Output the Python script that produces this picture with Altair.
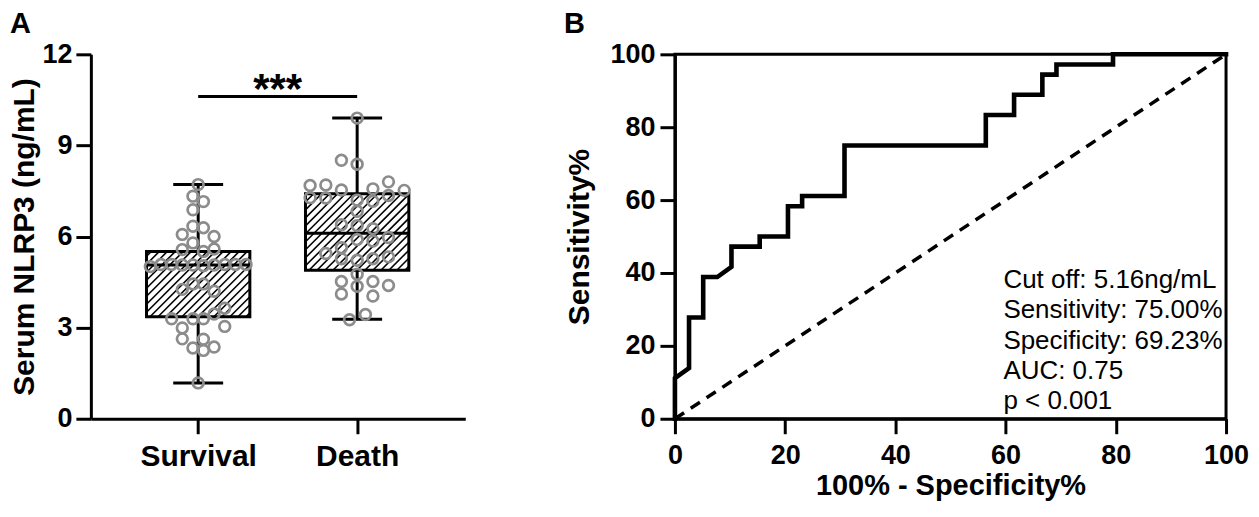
import json
import altair as alt
import pandas as pd

FONT = "Liberation Sans"

# ---------------- Panel A data ----------------
categories = ["Survival", "Death"]

survival_vals = [7.71, 7.33, 7.15, 6.88, 6.34, 6.29, 6.07, 6.00, 5.79, 5.57, 5.51, 5.59,
                 5.01, 5.08, 5.08, 5.06, 5.06, 5.04, 5.06, 5.08, 5.08, 5.08,
                 4.44, 4.44, 4.26, 4.20, 3.64, 3.45, 3.29, 3.29, 3.29, 2.99, 3.04,
                 2.63, 2.62, 2.33, 2.25, 2.36, 1.18]
survival_dx = [0, -0.033, 0.033, -0.033, -0.033, 0.033, -0.10, 0.10, -0.033, -0.10, 0.033, 0.10,
               -0.301, -0.234, -0.167, -0.10, -0.033, 0.033, 0.10, 0.167, 0.234, 0.301,
               -0.033, 0.033, -0.10, 0.10, 0.167, 0.10, -0.167, -0.033, 0.033, -0.10, 0.167,
               -0.10, 0.033, -0.033, 0.033, 0.10, 0]

death_vals = [9.90, 8.51, 8.38, 7.68, 7.70, 7.53, 7.57, 7.80, 7.52, 7.28, 7.27, 7.20, 7.16, 7.35,
              6.83, 6.39, 6.36, 6.26, 5.90, 5.85, 5.97, 5.63, 5.44, 5.27, 5.22, 5.27, 5.33,
              4.76, 4.52, 4.36, 4.52, 4.39, 4.11, 4.04, 3.26, 3.43]
death_dx = [0, -0.099, 0, -0.296, -0.197, -0.099, 0.099, 0.197, 0.296, -0.296, -0.197, 0, 0.099, 0.197,
            0, -0.099, 0, 0.099, 0, 0.099, 0.197, -0.099, -0.197, -0.099, 0, 0.099, 0.197,
            0, -0.099, 0, 0.099, 0.197, -0.099, 0.099, -0.048, 0.052]

box_min = [1.18, 3.28]
box_q1 = [3.36, 4.89]
box_med = [5.06, 6.11]
box_q3 = [5.51, 7.41]
box_max = [7.71, 9.90]

sig_y = 10.61
sig_text = "***"
y_ticks_a = [0, 3, 6, 9, 12]

# ---------------- Panel B data ----------------
fpr = [0, 0, 2.56, 2.56, 5.13, 5.13, 7.69, 10.26, 10.26, 15.38, 15.38, 20.51, 20.51, 23.08,
       23.08, 30.77, 30.77, 56.41, 56.41, 61.54, 61.54, 66.67, 66.67, 69.23, 69.23, 79.49, 79.49, 100]
tpr = [0, 11.11, 13.89, 27.78, 27.78, 38.89, 38.89, 41.67, 47.22, 47.22, 50.00, 50.00, 58.33, 58.33,
       61.11, 61.11, 75.00, 75.00, 83.33, 83.33, 88.89, 88.89, 94.44, 94.44, 97.22, 97.22, 100, 100]
chance_x = [0, 100]
chance_y = [0, 100]
ticks_b = [0, 20, 40, 60, 80, 100]
ann_lines = ["Cut off: 5.16ng/mL", "Sensitivity: 75.00%", "Specificity: 69.23%",
             "AUC: 0.75", "p < 0.001"]

# ---------------- layout / style ----------------
W_A, W_B, H = 375, 552, 365
x_dom_a = [-0.675, 1.68]
box_half = 0.325
cap_half = 0.157
hatch_step = 8.0
dot_gray = "#8c8c8c"

px_x = W_A / (x_dom_a[1] - x_dom_a[0])
px_y = H / (y_ticks_a[-1] - y_ticks_a[0])

pts = pd.DataFrame(
    [{"x": 0 + d, "v": v} for v, d in zip(survival_vals, survival_dx)]
    + [{"x": 1 + d, "v": v} for v, d in zip(death_vals, death_dx)]
)
stats = pd.DataFrame({
    "pos": [0, 1],
    "left": [i - box_half for i in range(2)],
    "right": [i + box_half for i in range(2)],
    "capl": [i - cap_half for i in range(2)],
    "capr": [i + cap_half for i in range(2)],
    "mn": box_min, "q1": box_q1, "med": box_med, "q3": box_q3, "mx": box_max,
})

# diagonal hatch segments clipped to each box (decorative fill pattern)
hatch = []
for i in range(2):
    left = i - box_half
    wp = 2 * box_half * px_x
    hp = (box_q3[i] - box_q1[i]) * px_y
    c = -wp + hatch_step / 2
    while c < hp:
        x0 = max(0.0, -c)
        x1 = min(wp, hp - c)
        if x1 > x0:
            hatch.append({"x": left + x0 / px_x, "y": box_q1[i] + (x0 + c) / px_y,
                          "x2": left + x1 / px_x, "y2": box_q1[i] + (x1 + c) / px_y})
        c += hatch_step
hatch = pd.DataFrame(hatch)

axis_common = dict(domainColor="black", domainWidth=3, tickColor="black", tickWidth=3,
                   tickSize=15, labelColor="black", titleColor="black", grid=False,
                   labelFont=FONT, titleFont=FONT, labelFontWeight="bold",
                   titleFontWeight="bold", labelFlush=False)

sx_a = alt.Scale(domain=x_dom_a, nice=False, zero=False)
sy_a = alt.Scale(domain=[y_ticks_a[0], y_ticks_a[-1]], nice=False)
ax_a_x = alt.Axis(values=[0, 1], labelExpr=json.dumps(categories) + "[datum.value]",
                  title=None, labelFontSize=30, labelPadding=8, **axis_common)
ax_a_y = alt.Axis(values=y_ticks_a, title="Serum NLRP3 (ng/mL)", titleFontSize=30,
                  titlePadding=2, labelFontSize=27, labelPadding=4, **axis_common)


def XA(f):
    return alt.X(f, type="quantitative", scale=sx_a, axis=ax_a_x)


def YA(f):
    return alt.Y(f, type="quantitative", scale=sy_a, axis=ax_a_y)


base_s = alt.Chart(stats)
hatch_l = alt.Chart(hatch).mark_rule(color="black", strokeWidth=1.6).encode(
    x=XA("x"), x2="x2", y=YA("y"), y2="y2")
box_l = base_s.mark_rect(fill="transparent", stroke="black", strokeWidth=3).encode(
    x=XA("left"), x2="right", y=YA("q1"), y2="q3")
med_l = base_s.mark_rule(color="black", strokeWidth=3).encode(
    x=XA("left"), x2="right", y=YA("med"))
wlo = base_s.mark_rule(color="black", strokeWidth=3).encode(x=XA("pos"), y=YA("mn"), y2="q1")
whi = base_s.mark_rule(color="black", strokeWidth=3).encode(x=XA("pos"), y=YA("q3"), y2="mx")
caplo = base_s.mark_rule(color="black", strokeWidth=3).encode(x=XA("capl"), x2="capr", y=YA("mn"))
caphi = base_s.mark_rule(color="black", strokeWidth=3).encode(x=XA("capl"), x2="capr", y=YA("mx"))
dots = alt.Chart(pts).mark_point(shape="circle", filled=False, color=dot_gray,
                                 strokeWidth=2.7, size=115, opacity=1).encode(
    x=XA("x"), y=YA("v"))
sig_df = pd.DataFrame({"a": [0], "b": [1], "y": [sig_y], "mid": [0.5], "t": [sig_text]})
sig_bar = alt.Chart(sig_df).mark_rule(color="black", strokeWidth=3).encode(
    x=XA("a"), x2="b", y=YA("y"))
sig_txt = alt.Chart(sig_df).mark_text(font=FONT, fontSize=42, fontWeight="bold",
                                      baseline="alphabetic", dy=6, color="black").encode(
    x=XA("mid"), y=YA("y"), text="t:N")

panel_a = alt.layer(hatch_l, box_l, med_l, wlo, whi, caplo, caphi, dots, sig_bar, sig_txt).properties(
    width=W_A, height=H,
    title=alt.TitleParams("A", anchor="start", fontSize=29, fontWeight="bold", font=FONT,
                          offset=1, color="black"),
)

# ---------------- Panel B ----------------
sx_b = alt.Scale(domain=[0, 100], nice=False)
sy_b = alt.Scale(domain=[0, 100], nice=False)
ax_b_x = alt.Axis(values=ticks_b, title="100% - Specificity%", titleFontSize=29, titlePadding=3,
                  labelFontSize=27, labelPadding=9, **axis_common)
ax_b_y = alt.Axis(values=ticks_b, title="Sensitivity%", titleFontSize=30, titlePadding=16,
                  labelFontSize=27, labelPadding=5, **axis_common)

roc = pd.DataFrame({"i": list(range(len(fpr))), "fpr": fpr, "tpr": tpr})
chance = pd.DataFrame({"i": [0, 1], "fpr": chance_x, "tpr": chance_y})

chance_l = alt.Chart(chance).mark_line(color="black", strokeWidth=3.5, strokeDash=[11, 8]).encode(
    x=alt.X("fpr:Q", scale=sx_b, axis=ax_b_x), y=alt.Y("tpr:Q", scale=sy_b, axis=ax_b_y),
    order="i:Q")
roc_l = alt.Chart(roc).mark_line(color="black", strokeWidth=4.6, strokeJoin="miter",
                                 strokeCap="square").encode(
    x=alt.X("fpr:Q", scale=sx_b, axis=ax_b_x), y=alt.Y("tpr:Q", scale=sy_b, axis=ax_b_y),
    order="i:Q")
ann = alt.Chart(pd.DataFrame({"t": ["\n".join(ann_lines)]})).mark_text(
    font=FONT, fontSize=26, align="left", baseline="top", lineBreak="\n", lineHeight=30.4,
    color="black").encode(x=alt.value(329), y=alt.value(213), text="t:N")

panel_b = alt.layer(chance_l, roc_l, ann).properties(
    width=W_B, height=H,
    view=alt.ViewBackground(stroke="black", strokeWidth=3),
    title=alt.TitleParams("B", anchor="start", fontSize=29, fontWeight="bold", font=FONT,
                          offset=1, color="black"),
)

chart = alt.hconcat(panel_a, panel_b, spacing=96).properties(
    padding={"top": 0, "left": 1, "right": 0, "bottom": 0}).configure_view(
    stroke="transparent")

chart.save("out.html", embed_options={"renderer": "svg", "actions": False})
